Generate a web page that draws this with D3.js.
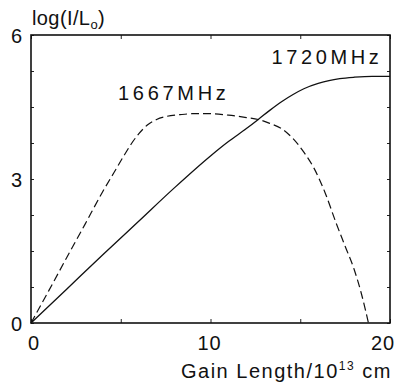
<!DOCTYPE html>
<html>
<head>
<meta charset="utf-8">
<script src="https://cdn.jsdelivr.net/npm/d3@7"></script>
<style>
  body { margin: 0; background: #fff; }
  text { font-family: "Liberation Sans", Arial, sans-serif; fill: #111; }
</style>
</head>
<body>
<div id="vis"></div>
<script>
// curve data (x = gain length / 1e13 cm, y = log(I/Lo))
const gain1720 = [0, 2, 4, 6, 8, 10, 11, 12, 12.66, 13.3, 14, 14.6, 15.2, 16, 16.6, 17.2, 18, 19, 20];
const log1720 = [0, 0.71, 1.42, 2.12, 2.82, 3.48, 3.78, 4.05, 4.24, 4.43, 4.62, 4.76, 4.88, 4.99, 5.05, 5.09, 5.12, 5.14, 5.14];

const gain1667 = [0, 1, 2, 3, 4, 4.6, 5.2, 5.6, 6, 6.5, 7, 7.5, 8.3, 9, 10, 11, 12, 12.66, 13.3, 14, 14.6, 15.2, 15.8, 16.4, 17, 17.5, 18, 18.4, 18.8];
const log1667 = [0, 0.68, 1.37, 2.05, 2.74, 3.12, 3.5, 3.74, 3.94, 4.13, 4.24, 4.3, 4.34, 4.36, 4.36, 4.33, 4.28, 4.24, 4.16, 4.04, 3.84, 3.56, 3.2, 2.7, 2.08, 1.6, 1.12, 0.62, 0];

const xTicks = [0, 10, 20];
const yTicks = [0, 3, 6];

const margin = {top: 35, right: 27, bottom: 67, left: 31};
const width = 417 - margin.left - margin.right;
const height = 390 - margin.top - margin.bottom;

const svg = d3.select('#vis')
  .append('svg')
  .attr('width', 417)
  .attr('height', 390);

const g = svg.append('g')
  .attr('transform', 'translate(' + margin.left + ',' + margin.top + ')');

const x = d3.scaleLinear().domain([0, 20]).range([0, width]);
const y = d3.scaleLinear().domain([0, 6]).range([height, 0]);

// inner ticks on all four sides
g.append('g').attr('transform', 'translate(0,' + height + ')')
  .call(d3.axisTop(x).tickValues([0, 5, 10, 15, 20]).tickSize(4).tickFormat(''));
g.append('g')
  .call(d3.axisBottom(x).tickValues([0, 5, 10, 15, 20]).tickSize(4).tickFormat(''));
g.append('g')
  .call(d3.axisRight(y).tickValues(d3.range(0, 6.01, 0.75)).tickSize(3).tickFormat(''));
g.append('g').attr('transform', 'translate(' + width + ',0)')
  .call(d3.axisLeft(y).tickValues(d3.range(0, 6.01, 0.75)).tickSize(3).tickFormat(''));
g.selectAll('.domain').remove();
g.selectAll('.tick line').attr('stroke', '#222').attr('stroke-width', 1);

// frame
g.append('rect')
  .attr('width', width)
  .attr('height', height)
  .attr('fill', 'none')
  .attr('stroke', '#111')
  .attr('stroke-width', 1.6);

// tick labels
g.selectAll('.xlab')
  .data(xTicks)
  .enter()
  .append('text')
  .attr('x', (d) => x(d) + (d === 20 ? -7 : d === 0 ? 3 : -1))
  .attr('y', height + 27)
  .attr('text-anchor', 'middle')
  .style('font-size', '20px')
  .style('letter-spacing', '1px')
  .text((d) => d);

g.selectAll('.ylab')
  .data(yTicks)
  .enter()
  .append('text')
  .attr('x', -9)
  .attr('y', (d) => y(d) + 8)
  .attr('text-anchor', 'end')
  .style('font-size', '20px')
  .text((d) => d);

const line = d3.line()
  .x((d) => x(d[0]))
  .y((d) => y(d[1]))
  .curve(d3.curveMonotoneX);

g.append('path')
  .datum(d3.zip(gain1720, log1720))
  .attr('d', line)
  .attr('fill', 'none')
  .attr('stroke', '#111')
  .attr('stroke-width', 1.3);

g.append('path')
  .datum(d3.zip(gain1667, log1667))
  .attr('d', line)
  .attr('fill', 'none')
  .attr('stroke', '#111')
  .attr('stroke-width', 1.2)
  .attr('stroke-dasharray', '8,4');

// curve labels
g.append('text')
  .attr('x', x(13.4))
  .attr('y', y(5.4))
  .style('font-size', '20px')
  .style('letter-spacing', '3.6px')
  .text('1720MHz');

g.append('text')
  .attr('x', x(4.85))
  .attr('y', y(4.65))
  .style('font-size', '20px')
  .style('letter-spacing', '3.7px')
  .text('1667MHz');

// axis titles
const yt = svg.append('text')
  .attr('x', 32)
  .attr('y', 25)
  .style('font-size', '20px')
  .style('letter-spacing', '0.4px');
yt.append('tspan').text('log(I/L');
yt.append('tspan').attr('dy', 4).style('font-size', '13px').text('o');
yt.append('tspan').attr('dy', -4).text(')');

const xt = svg.append('text')
  .attr('x', 181)
  .attr('y', 378)
  .style('font-size', '20px')
  .style('letter-spacing', '1.5px');
xt.append('tspan').text('Gain Length/10');
xt.append('tspan').attr('dy', -8).style('font-size', '12px').text('13');
xt.append('tspan').attr('dy', 8).text(' cm');
</script>
</body>
</html>
